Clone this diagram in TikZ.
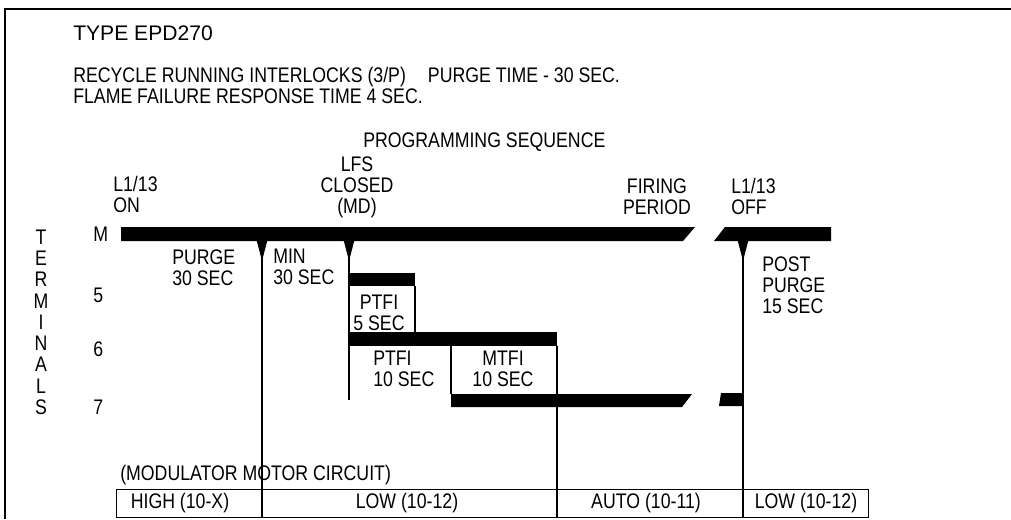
\documentclass[tikz,border=0pt]{standalone}
\usepackage{fontspec}
\setmainfont{Liberation Sans}
\newfontfamily\narrowfont{Liberation Sans}[FakeStretch=0.84]
\tikzset{
  lbl/.style={inner sep=0pt, align=left, font=\narrowfont\fontsize{15}{15}\selectfont},
  bar/.style={fill=black, draw=none},
  wire/.style={line width=0.8pt},
}
\begin{document}
\begin{tikzpicture}[x=0.25mm, y=-0.25mm]
        \useasboundingbox (0,0) rectangle (1011,519);
        % frame
        \draw[line width=1.2pt] (5,519) -- (5,9) -- (1011,9);
        % define point
        \coordinate (on)    at (121,241);
        \coordinate (purge) at (262,241);
        \coordinate (lfs)   at (349,241);
        \coordinate (off)   at (743,241);
        \coordinate (foot1) at (262,517);
        \coordinate (foot2) at (557,517);
        \coordinate (foot3) at (743,517);
        % heading
        \node[inner sep=0pt, anchor=north west, font=\fontsize{15}{17}\selectfont] (type) at (73,25) {TYPE EPD270};
        \node[lbl, anchor=north west, font=\narrowfont\fontsize{15}{12.8}\selectfont] (recycle) at (73,67)
          {RECYCLE RUNNING INTERLOCKS (3/P)\hspace{5.5mm}PURGE TIME - 30 SEC.\\FLAME FAILURE RESPONSE TIME 4 SEC.};
        \node[lbl, anchor=north west] (prog) at (363,132) {PROGRAMMING SEQUENCE};
        \node[lbl, anchor=north west] (l1on) at (113,176) {L1/13\\ON};
        \node[lbl, anchor=north, align=center] (lfstxt) at (357,156) {LFS\\CLOSED\\(MD)};
        \node[lbl, anchor=north, align=center] (firing) at (657,178) {FIRING\\PERIOD};
        \node[lbl, anchor=north west] (l1off) at (731,178) {L1/13\\OFF};
        % terminals
        \foreach \ch [count=\i from 0] in {T,E,R,M,I,N,A,L,S}
          \node[lbl] (term\i) at (41,237+21.25*\i) {\ch};
        \node[lbl, anchor=west] (tM) at (93,234) {M};
        \node[lbl, anchor=west] (t5) at (93,295) {5};
        \node[lbl, anchor=west] (t6) at (93,349) {6};
        \node[lbl, anchor=west] (t7) at (93,407) {7};
        % bars
        \fill[bar] (121,227) -- (695,227) -- (683,241) -- (121,241) -- cycle;
        \fill[bar] (725,227) -- (831,227) -- (831,241) -- (714,241) -- cycle;
        \fill[bar] (349,273) rectangle (415,286);
        \fill[bar] (349,332) rectangle (557,346);
        \fill[bar] (451,394) -- (692,394) -- (682,407) -- (451,407) -- cycle;
        \fill[bar] (721,393) -- (743,393) -- (743,406) -- (719,406) -- cycle;
        % ticks
        \foreach \p in {purge,lfs,off}
          \fill[bar] ([xshift=-1.3mm]\p) -- ([xshift=1.3mm]\p) -- ([yshift=-5mm]\p) -- cycle;
        \draw[wire] (purge) -- (foot1);
        \draw[wire] (lfs) -- (349,400);
        \draw[wire] (415,286) -- (415,332);
        \draw[wire] (451,346) -- (451,394);
        \draw[wire] (557,346) -- (foot2);
        \draw[wire] (off) -- (foot3);
        % periods
        \node[lbl, anchor=north west] (purgetxt) at (172,249) {PURGE\\30 SEC};
        \node[lbl, anchor=north west] (mintxt) at (273,249) {MIN\\30 SEC};
        \node[lbl, anchor=north, align=center] (ptfia) at (379,295) {PTFI\\5 SEC};
        \node[lbl, anchor=north west] (ptfib) at (373,351) {PTFI\\10 SEC};
        \node[lbl, anchor=north, align=center] (mtfi) at (503,351) {MTFI\\10 SEC};
        \node[lbl, anchor=north west] (post) at (762,256) {POST\\PURGE\\15 SEC};
        % modulator motor
        \node[lbl, anchor=north west] (modmot) at (120,465) {(MODULATOR MOTOR CIRCUIT)};
        \draw[line width=0.7pt] (116,489) rectangle (868,517);
        \node[lbl] (high) at (180,503) {HIGH (10-X)};
        \node[lbl] (lowa) at (407,503) {LOW (10-12)};
        \node[lbl] (auto) at (646,503) {AUTO (10-11)};
        \node[lbl] (lowb) at (806,503) {LOW (10-12)};
\end{tikzpicture}
\end{document}
